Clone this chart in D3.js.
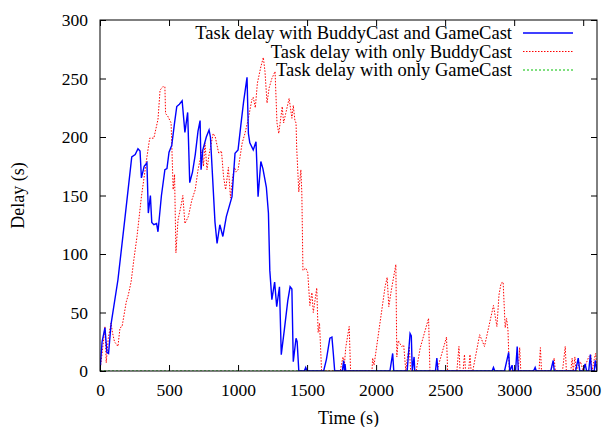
<!DOCTYPE html>
<html>
<head>
    <style>
        body {
            margin: 0;
            background: #fff;
        }
        text {
            font-family: "Liberation Serif", "Times New Roman", serif;
            font-size: 18px;
            fill: #000;
        }
    </style>
    <script src="https://d3js.org/d3.v7.min.js"></script>
</head>
<body>
    <svg width="602" height="427"></svg>

    <script>
        // Task delay with BuddyCast and GameCast
        var bothTime = [0,15,36,50,62,80,130,180,230,255,275,290,300,320,340,350,365,375,390,410,
            420,445,470,485,500,520,540,556,575,595,615,635,650,670,690,710,725,732,745,770,
            790,800,833,848,868,890,915,956,978,1000,1020,1040,1065,1075,1085,1110,1130,1145,1165,1180,
            1205,1220,1230,1245,1265,1280,1300,1313,1335,1360,1377,1390,1400,1420,1428,1440,1480,1490,1500,1620,
            1640,1665,1680,1690,1700,1755,1765,1770,1775,1780,2100,2120,2128,2225,2246,2255,2262,2275,2280,2430,
            2440,2448,2840,2850,2860,2930,2960,2968,2985,2990,3010,3022,3030,3140,3152,3160,3265,3283,3290,3445,
            3464,3475,3500,3514,3525,3540,3552,3560,3580,3587,3600];
        var bothDelay = [0,25,37,16,15,40,78,130,183,185,190,188,165,175,178,135,150,127,125,126,
            119,150,172,173,187,193,212,226,228,231,204,221,161,170,185,205,214,172,189,200,
            206,200,127,109,125,115,132,149,186,189,210,230,251,203,195,189,196,149,179,173,
            157,135,86,61,76,55,72,14,35,60,72,70,8,28,25,0,0,3,0,0,
            10,28,29,15,0,0,9,0,6,0,0,15,0,0,32,30,0,12,0,0,
            11,0,0,3,0,0,16,0,5,0,0,21,0,0,3,0,0,9,0,0,
            11,0,0,6,0,0,14,0,0,9,0];

        // Task delay with only BuddyCast
        var buddyTime = [0,20,36,45,60,80,90,105,130,145,160,190,205,225,245,268,300,340,360,390,
            420,435,455,470,475,490,515,530,540,550,565,590,600,615,640,665,690,710,740,750,
            760,775,790,820,835,860,880,895,910,930,945,960,975,985,1000,1030,1050,1075,1100,1110,
            1125,1140,1165,1183,1195,1210,1225,1245,1268,1282,1295,1320,1330,1345,1370,1390,1400,1412,1420,1425,
            1440,1455,1462,1470,1490,1505,1520,1535,1545,1570,1580,1590,1605,1740,1760,1770,1780,1805,1815,1970,
            1975,1985,2065,2080,2092,2110,2143,2150,2160,2185,2200,2215,2225,2240,2250,2290,2320,2380,2390,2440,
            2510,2518,2585,2600,2608,2630,2640,2648,2670,2680,2688,2700,2750,2785,2850,2875,2890,2905,2920,2935,
            2945,2955,2965,3030,3040,3048,3180,3190,3198,3265,3290,3298,3350,3370,3378,3410,3420,3428,3440,3448,
            3480,3500,3540,3555,3565,3580,3590,3600];
        var buddyDelay = [0,20,38,7,28,41,33,25,21,37,38,59,65,76,95,115,149,183,199,199,
            215,240,243,243,220,218,212,155,168,101,129,143,150,126,132,146,155,172,189,175,
            195,172,185,203,200,186,188,166,155,174,148,165,174,170,172,195,203,216,232,234,
            225,246,260,268,256,229,242,250,256,212,203,226,212,220,233,216,227,214,212,190,
            153,172,152,86,88,84,56,67,50,71,33,41,0,0,12,5,20,38,0,0,
            11,5,72,80,55,69,91,12,26,21,22,0,10,21,0,0,20,45,0,0,
            29,0,0,21,0,0,14,0,0,14,0,0,31,21,56,38,65,75,76,37,
            45,35,0,0,20,0,0,20,0,0,11,0,0,21,0,0,11,0,12,0,
            8,0,12,14,0,10,15,0];

        // Task delay with only GameCast
        var gameTime = [0, 3600];
        var gameDelay = [0, 0];

        var xTicks = [0, 500, 1000, 1500, 2000, 2500, 3000, 3500];
        var yTicks = [0, 50, 100, 150, 200, 250, 300];

        var seriesNames = ["Task delay with BuddyCast and GameCast",
                           "Task delay with only BuddyCast",
                           "Task delay with only GameCast"];

        var svg = d3.select("svg"),
            plotLeft = 100, plotRight = 597, plotTop = 20, plotBottom = 371;

        var x = d3.scaleLinear().domain([0, 3600]).range([plotLeft, plotRight]);
        var y = d3.scaleLinear().domain([0, 300]).range([plotBottom, plotTop]);

        function zip(ts, vs) {
            return ts.map(function(t, i) { return [t, vs[i]]; });
        }

        var line = d3.line()
                     .x(function(d) { return x(d[0]); })
                     .y(function(d) { return y(d[1]); });

        var styles = [
            { color: "#0000ff", width: 1.4, dash: null },
            { color: "#ff0000", width: 1, dash: "1.5,1.5" },
            { color: "#00c000", width: 1, dash: "2,2" }
        ];
        var data = [zip(bothTime, bothDelay), zip(buddyTime, buddyDelay), zip(gameTime, gameDelay)];

        // plot lines, clipped to frame
        svg.append("clipPath").attr("id", "clip")
           .append("rect").attr("x", plotLeft).attr("y", plotTop)
           .attr("width", plotRight - plotLeft).attr("height", plotBottom - plotTop);

        var plot = svg.append("g").attr("clip-path", "url(#clip)");
        [2, 1, 0].forEach(function(i) {
            plot.append("path")
                .datum(data[i])
                .attr("d", line)
                .attr("fill", "none")
                .attr("stroke", styles[i].color)
                .attr("stroke-width", styles[i].width)
                .attr("stroke-dasharray", styles[i].dash);
        });

        // axes: ticks inward on all four sides
        svg.append("g")
           .attr("transform", "translate(0," + plotBottom + ")")
           .call(d3.axisBottom(x).tickValues(xTicks).tickSize(-6).tickPadding(13).tickFormat(d3.format("d")));
        svg.append("g")
           .attr("transform", "translate(0," + plotTop + ")")
           .call(d3.axisTop(x).tickValues(xTicks).tickSize(-6).tickFormat(""));
        svg.append("g")
           .attr("transform", "translate(" + plotLeft + ",0)")
           .call(d3.axisLeft(y).tickValues(yTicks).tickSize(-6).tickPadding(12));
        svg.append("g")
           .attr("transform", "translate(" + plotRight + ",0)")
           .call(d3.axisRight(y).tickValues(yTicks).tickSize(-6).tickFormat(""));

        svg.selectAll(".domain").remove();
        svg.selectAll(".tick line").attr("stroke", "#000");
        svg.selectAll(".tick text")
           .style("font-family", "Liberation Serif")
           .style("font-size", "17.5px")
           .attr("fill", "#000");

        svg.append("rect")
           .attr("x", plotLeft).attr("y", plotTop)
           .attr("width", plotRight - plotLeft).attr("height", plotBottom - plotTop)
           .attr("fill", "none").attr("stroke", "#000").attr("stroke-width", 1);

        // axis titles
        svg.append("text")
           .attr("x", (plotLeft + plotRight) / 2).attr("y", 424)
           .attr("text-anchor", "middle")
           .text("Time (s)");
        svg.append("text")
           .attr("transform", "translate(24," + (plotTop + plotBottom) / 2 + ") rotate(-90)")
           .attr("text-anchor", "middle")
           .text("Delay (s)");

        // legend
        var legend = svg.append("g");
        seriesNames.forEach(function(name, i) {
            var ly = 33 + i * 18.5;
            legend.append("text")
                  .attr("x", 512).attr("y", ly + 6)
                  .attr("text-anchor", "end")
                  .style("font-size", "18.5px")
                  .text(name);
            legend.append("line")
                  .attr("x1", 523).attr("x2", 573)
                  .attr("y1", ly).attr("y2", ly)
                  .attr("stroke", styles[i].color)
                  .attr("stroke-width", styles[i].width)
                  .attr("stroke-dasharray", styles[i].dash);
        });
    </script>
</body>
</html>
